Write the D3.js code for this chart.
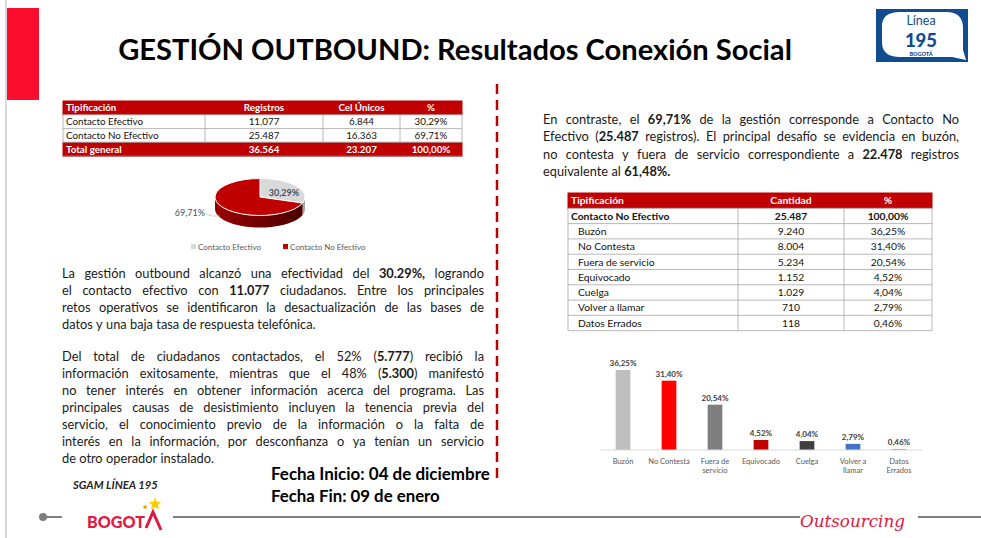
<!DOCTYPE html>
<html>
<head>
<meta charset="utf-8">
<script src="https://cdn.jsdelivr.net/npm/d3@7"></script>
<style>
  body { margin: 0; background: #fff; }
  svg { display: block; font-family: Lato, "Noto Sans", sans-serif; }
</style>
</head>
<body>
<svg id="slide"></svg>
<script>
const width = 981;
const height = 538;

// ---- data ----
const summaryCols = ["Tipificación", "Registros", "Cel Únicos", "%"];
const summaryRows = [
    ["Contacto Efectivo", "11.077", "6.844", "30,29%"],
    ["Contacto No Efectivo", "25.487", "16.363", "69,71%"]
];
const summaryTotal = ["Total general", "36.564", "23.207", "100,00%"];

const pieLabels = ["Contacto Efectivo", "Contacto No Efectivo"];
const pieValues = [30.29, 69.71];

const detailCols = ["Tipificación", "Cantidad", "%"];
const detailTotal = ["Contacto No Efectivo", "25.487", "100,00%"];
const detailCats = ["Buzón", "No Contesta", "Fuera de servicio", "Equivocado", "Cuelga", "Volver a llamar", "Datos Errados"];
const detailCounts = ["9.240", "8.004", "5.234", "1.152", "1.029", "710", "118"];
const detailPct = [36.25, 31.40, 20.54, 4.52, 4.04, 2.79, 0.46];
const barLabelLines = [["Buzón"], ["No Contesta"], ["Fuera de", "servicio"], ["Equivocado"], ["Cuelga"], ["Volver a", "llamar"], ["Datos", "Errados"]];
const barColors = ["#bfbfbf", "#ff0000", "#7f7f7f", "#c00000", "#404040", "#4472c4", "#70ad47"];

const para1 = [
    "La gestión outbound alcanzó una efectividad del **30.29%,** logrando",
    "el contacto efectivo con **11.077** ciudadanos. Entre los principales",
    "retos operativos se identificaron la desactualización de las bases de",
    "datos y una baja tasa de respuesta telefónica."
];
const para2 = [
    "Del total de ciudadanos contactados, el 52% (**5.777**) recibió la",
    "información exitosamente, mientras que el 48% (**5.300**) manifestó",
    "no tener interés en obtener información acerca del programa. Las",
    "principales causas de desistimiento incluyen la tenencia previa del",
    "servicio, el conocimiento previo de la información o la falta de",
    "interés en la información, por desconfianza o ya tenían un servicio",
    "de otro operador instalado."
];
const para3 = [
    "En contraste, el **69,71%** de la gestión corresponde a Contacto No",
    "Efectivo (**25.487** registros). El principal desafío se evidencia en buzón,",
    "no contesta y fuera de servicio correspondiente a **22.478** registros",
    "equivalente al **61,48%.**"
];

const pct = v => d3.format(".2f")(v).replace(".", ",") + "%";

const svg = d3.select("#slide")
    .attr("width", width)
    .attr("height", height);

// fit a text element to a given width by scaling its font size
function fit(sel, w) {
    const size = +sel.attr("font-size");
    const cur = sel.node().getComputedTextLength();
    sel.attr("font-size", size * w / cur);
    return sel;
}

// ---- frame ----
svg.append("line").attr("x1", 6).attr("x2", 6).attr("y1", 0).attr("y2", height)
    .attr("stroke", "#d9d9d9").attr("stroke-width", 2);
svg.append("rect").attr("x", 7).attr("y", 8).attr("width", 32).attr("height", 92)
    .attr("fill", "#fb0d2e");

fit(svg.append("text")
    .attr("x", 455).attr("y", 60)
    .attr("text-anchor", "middle")
    .attr("font-size", 27).attr("font-weight", "bold")
    .attr("fill", "#000")
    .text("GESTIÓN OUTBOUND: Resultados Conexión Social"), 674);

// logo Línea 195
const logo = svg.append("g");
logo.append("rect").attr("x", 876).attr("y", 9).attr("width", 92).attr("height", 53).attr("fill", "#104c8e");
logo.append("path")
    .attr("d", "M882,26 Q882,12 900,12 L946,12 Q963,12 963,28 L963,50 L966,60 L952,57 L900,57 Q882,57 882,42 Z")
    .attr("fill", "#fff");
logo.append("text").attr("x", 921).attr("y", 25).attr("text-anchor", "middle")
    .attr("font-size", 12.5).attr("fill", "#104c8e").text("Línea");
logo.append("text").attr("x", 921).attr("y", 46.5).attr("text-anchor", "middle")
    .attr("font-size", 18.5).attr("font-weight", 900).attr("fill", "#104c8e").text("195");
logo.append("text").attr("x", 921).attr("y", 55.5).attr("text-anchor", "middle")
    .attr("font-size", 5.5).attr("font-weight", 900).attr("fill", "#104c8e").text("BOGOTÁ");

// dashed divider
svg.append("line").attr("x1", 497).attr("x2", 497).attr("y1", 84).attr("y2", 478)
    .attr("stroke", "#c00000").attr("stroke-width", 2.5).attr("stroke-dasharray", "10,6");

// ---- tables ----
function drawTable(cols, rows, top, rowH, opts) {
    const g = svg.append("g");
    const n = rows.length;
    const y = d3.scaleLinear().domain([0, n]).range([top, top + n * rowH]);
    const x0 = cols[0], x1 = cols[cols.length - 1];
    rows.forEach((r, i) => {
        const red = r.kind === "head" || r.kind === "total";
        g.append("rect").attr("x", x0).attr("y", y(i)).attr("width", x1 - x0).attr("height", rowH)
            .attr("fill", red ? "#c00000" : "#fff")
            .attr("stroke", red ? "#c00000" : "none");
        r.cells.forEach((c, j) => {
            const left = j === 0;
            g.append("text")
                .attr("x", left ? cols[j] + 3 + (r.kind === "sub" ? opts.indent : 0) : (cols[j] + cols[j + 1]) / 2)
                .attr("y", y(i) + rowH / 2 + opts.size * 0.36)
                .attr("text-anchor", left ? "start" : "middle")
                .attr("font-size", opts.size)
                .attr("font-weight", r.kind === "body" || r.kind === "sub" ? "normal" : "bold")
                .attr("fill", red ? "#fff" : "#111")
                .text(c);
        });
    });
    // grid lines
    d3.range(1, n).forEach(i => {
        g.append("line").attr("x1", x0).attr("x2", x1).attr("y1", y(i)).attr("y2", y(i))
            .attr("stroke", "#a6a6a6").attr("stroke-width", 0.8);
    });
    cols.forEach(cx => {
        g.append("line").attr("x1", cx).attr("x2", cx).attr("y1", y(1)).attr("y2", y(opts.vEnd ?? n))
            .attr("stroke", "#a6a6a6").attr("stroke-width", 0.8);
    });
    g.append("line").attr("x1", x0).attr("x2", x1).attr("y1", y(n)).attr("y2", y(n))
        .attr("stroke", "#a6a6a6").attr("stroke-width", 0.8);
}

drawTable([63, 205, 323, 400, 462],
    [{ kind: "head", cells: summaryCols }]
        .concat(summaryRows.map(r => ({ kind: "body", cells: r })))
        .concat([{ kind: "total", cells: summaryTotal }]),
    101, 13.8, { size: 9.8, indent: 0, vEnd: 3 });

drawTable([568, 738, 844, 932],
    [{ kind: "head", cells: detailCols }, { kind: "bold", cells: detailTotal }]
        .concat(detailCats.map((c, i) => ({ kind: "sub", cells: [c, detailCounts[i], pct(detailPct[i])] }))),
    193, 15.3, { size: 10.3, indent: 7 });

// ---- 3D pie ----
const cx = 260, cy = 197, rx = 45, ry = 18.5, depth = 12;
const pieColors = ["#d9d9d9", "#c00000"];
const sideColors = ["#a6a6a6", "url(#redSide)"];
const defs = svg.append("defs");
const grad = defs.append("linearGradient").attr("id", "redSide").attr("x1", 0).attr("x2", 1);
grad.append("stop").attr("offset", 0).attr("stop-color", "#9a0000");
grad.append("stop").attr("offset", 1).attr("stop-color", "#4a0000");

const arcs = d3.pie().sort(null).value(d => d)(pieValues);
const ex = a => cx + rx * Math.sin(a);
const ey = a => cy - ry * Math.cos(a);
const pieG = svg.append("g");
arcs.forEach((a, i) => {
    const a0 = Math.max(a.startAngle, Math.PI / 2);
    const a1 = Math.min(a.endAngle, 3 * Math.PI / 2);
    if (a0 >= a1) return;
    const steps = d3.range(0, 41).map(k => a0 + (a1 - a0) * k / 40);
    const pts = steps.map(t => [ex(t), ey(t)])
        .concat(steps.slice().reverse().map(t => [ex(t), ey(t) + depth]));
    pieG.append("path").attr("d", d3.line()(pts) + "Z").attr("fill", sideColors[i]);
});
const topG = pieG.append("g").attr("transform", `translate(${cx},${cy}) scale(1,${ry / rx})`);
topG.selectAll("path").data(arcs).join("path")
    .attr("d", d3.arc().innerRadius(0).outerRadius(rx))
    .attr("fill", (d, i) => pieColors[i])
    .attr("stroke", "#fff").attr("stroke-width", 1)
    .attr("vector-effect", "non-scaling-stroke");

pieG.append("text").attr("x", 284).attr("y", 196).attr("text-anchor", "middle")
    .attr("font-size", 9).attr("font-weight", "bold").attr("fill", "#44546a").text(pct(pieValues[0]));
pieG.append("polyline").attr("points", "206,214 212,216 220,216")
    .attr("fill", "none").attr("stroke", "#bfbfbf").attr("stroke-width", 0.8);
pieG.append("text").attr("x", 205).attr("y", 216).attr("text-anchor", "end")
    .attr("font-size", 9).attr("fill", "#44546a").text(pct(pieValues[1]));

const legX = [191, 283];
pieLabels.forEach((l, i) => {
    svg.append("rect").attr("x", legX[i]).attr("y", 244).attr("width", 5).attr("height", 5).attr("fill", pieColors[i]);
    svg.append("text").attr("x", legX[i] + 7).attr("y", 249.5).attr("font-size", 8)
        .attr("fill", "#595959").text(l);
});

// ---- justified paragraphs ----
function paragraph(lines, x0, x1, y0, lh, size) {
    const W = x1 - x0;
    lines.forEach((line, i) => {
        const g = svg.append("g");
        const nodes = line.split(" ").map(w => {
            const t = g.append("text").attr("y", y0 + i * lh).attr("font-size", size).attr("fill", "#1a1a1a");
            w.split("**").forEach((p, k) => {
                if (p) t.append("tspan").attr("font-weight", k % 2 ? "bold" : "normal").text(p);
            });
            return t;
        });
        const ws = nodes.map(n => n.node().getComputedTextLength());
        const last = i === lines.length - 1;
        const gap = last ? size * 0.26 : (W - d3.sum(ws)) / (nodes.length - 1);
        let x = x0;
        nodes.forEach((n, k) => { n.attr("x", x); x += ws[k] + gap; });
    });
}
paragraph(para1, 62, 484, 278, 17, 12.8);
paragraph(para2, 62, 484, 361, 17, 12.8);
paragraph(para3, 543, 959, 124, 17.3, 12.8);

// ---- bar chart ----
const xb = d3.scaleBand().domain(detailCats).range([600, 922]).paddingInner(0.68).paddingOuter(0.34);
const yb = d3.scaleLinear().domain([0, 40]).range([450, 361.7]);
const barG = svg.append("g");
barG.selectAll("rect").data(detailCats).join("rect")
    .attr("x", d => xb(d))
    .attr("y", (d, i) => yb(detailPct[i]))
    .attr("width", xb.bandwidth())
    .attr("height", (d, i) => yb(0) - yb(detailPct[i]))
    .attr("fill", (d, i) => barColors[i]);
barG.append("line").attr("x1", 600).attr("x2", 922).attr("y1", yb(0)).attr("y2", yb(0))
    .attr("stroke", "#d9d9d9").attr("stroke-width", 1);
barG.selectAll("text.val").data(detailCats).join("text")
    .attr("class", "val")
    .attr("x", d => xb(d) + xb.bandwidth() / 2)
    .attr("y", (d, i) => yb(detailPct[i]) - 4)
    .attr("text-anchor", "middle")
    .attr("font-size", 8).attr("font-weight", "bold").attr("fill", "#404040")
    .text((d, i) => pct(detailPct[i]));
detailCats.forEach((c, i) => {
    barLabelLines[i].forEach((l, k) => {
        barG.append("text")
            .attr("x", xb(c) + xb.bandwidth() / 2)
            .attr("y", 464 + k * 9)
            .attr("text-anchor", "middle")
            .attr("font-size", 7.5).attr("fill", "#595959")
            .text(l);
    });
});

// ---- footer ----
fit(svg.append("text").attr("x", 271).attr("y", 480).attr("font-size", 15).attr("font-weight", "bold")
    .attr("fill", "#000").text("Fecha Inicio: 04 de diciembre"), 219);
fit(svg.append("text").attr("x", 271).attr("y", 502).attr("font-size", 15).attr("font-weight", "bold")
    .attr("fill", "#000").text("Fecha Fin: 09 de enero"), 169);

fit(svg.append("text").attr("x", 73).attr("y", 489).attr("font-size", 9).attr("font-weight", "bold")
    .attr("font-style", "italic").attr("fill", "#262626").text("SGAM LÍNEA 195"), 85);

const foot = svg.append("g").attr("stroke", "#7f7f7f").attr("stroke-width", 2);
foot.append("line").attr("x1", 43).attr("x2", 62).attr("y1", 517).attr("y2", 517);
foot.append("line").attr("x1", 173).attr("x2", 800).attr("y1", 517).attr("y2", 517);
foot.append("line").attr("x1", 918).attr("x2", 981).attr("y1", 517).attr("y2", 517);
svg.append("circle").attr("cx", 43).attr("cy", 517).attr("r", 4).attr("fill", "#7f7f7f");

// Bogotá logo
fit(svg.append("text").attr("x", 87).attr("y", 528).attr("font-size", 15).attr("font-weight", 900)
    .attr("fill", "#e4173e").text("BOGOT"), 58);
svg.append("path").attr("d", "M146,528 L153,512 L161,530")
    .attr("fill", "none").attr("stroke", "#e4173e").attr("stroke-width", 3);
const star = (x, y, r) => d3.range(10).map(k => {
    const a = k * Math.PI / 5 - Math.PI / 2, rr = k % 2 ? r * 0.45 : r;
    return [x + rr * Math.cos(a), y + rr * Math.sin(a)];
});
svg.append("path").attr("d", d3.line()(star(155, 504, 6.5)) + "Z").attr("fill", "#ffcc00");
svg.append("path").attr("d", d3.line()(star(145, 507, 2.5)) + "Z").attr("fill", "#f39200");

// Outsourcing logo
fit(svg.append("text").attr("x", 800).attr("y", 527)
    .attr("font-family", "'DejaVu Serif', serif").attr("font-style", "italic")
    .attr("font-size", 18).attr("fill", "#e4173e").text("Outsourcing"), 105);
</script>
</body>
</html>
